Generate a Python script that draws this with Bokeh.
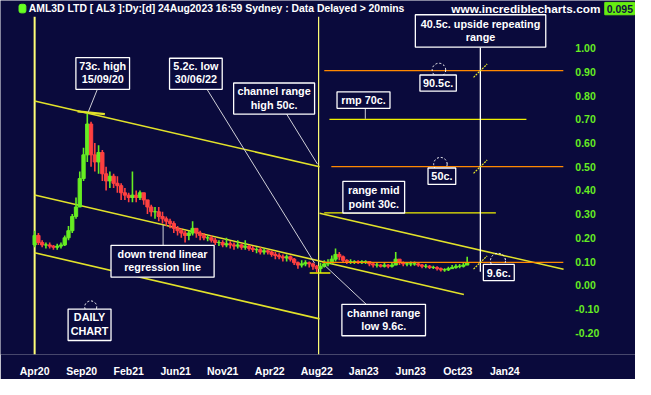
import numpy as np
from bokeh.plotting import figure
from bokeh.models import (ColumnDataSource, FixedTicker, NumeralTickFormatter, Range1d,
                          LinearAxis)
from bokeh.core.properties import value
from bokeh.embed import file_html
from bokeh.resources import INLINE

# ---------------- data ----------------
start_open = 0.17
bar_step_days = 8   # each candle summarises ~8 trading days

closes = [0.21, 0.18, 0.17, 0.17, 0.165, 0.16, 0.165, 0.17, 0.20, 0.23,
          0.29, 0.33, 0.45, 0.55, 0.68, 0.55, 0.52, 0.56, 0.47, 0.44,
          0.46, 0.43, 0.42, 0.39, 0.38, 0.37, 0.38, 0.37, 0.39, 0.36,
          0.33, 0.31, 0.31, 0.29, 0.28, 0.27, 0.26, 0.24, 0.23, 0.22,
          0.21, 0.22, 0.24, 0.22, 0.21, 0.20, 0.20, 0.19, 0.18, 0.18,
          0.17, 0.175, 0.17, 0.165, 0.17, 0.16, 0.165, 0.155, 0.15, 0.15,
          0.14, 0.145, 0.14, 0.13, 0.125, 0.12, 0.115, 0.12, 0.11, 0.095,
          0.085, 0.09, 0.095, 0.09, 0.08, 0.07, 0.08, 0.09, 0.095, 0.11,
          0.13, 0.12, 0.105, 0.10, 0.10, 0.10, 0.095, 0.10, 0.10, 0.09,
          0.085, 0.085, 0.08, 0.085, 0.08, 0.085, 0.11, 0.095, 0.09, 0.09,
          0.09, 0.09, 0.085, 0.08, 0.08, 0.075, 0.075, 0.07, 0.065, 0.065,
          0.07, 0.075, 0.08, 0.08, 0.085, 0.095]
highs = [0.23, 0.22, 0.19, 0.18, 0.18, 0.17, 0.175, 0.18, 0.21, 0.25,
         0.30, 0.37, 0.48, 0.58, 0.73, 0.69, 0.60, 0.59, 0.57, 0.50,
         0.48, 0.47, 0.46, 0.43, 0.41, 0.39, 0.48, 0.40, 0.40, 0.39,
         0.36, 0.34, 0.33, 0.33, 0.31, 0.29, 0.28, 0.27, 0.25, 0.24,
         0.23, 0.23, 0.27, 0.24, 0.23, 0.22, 0.21, 0.21, 0.20, 0.19,
         0.19, 0.20, 0.185, 0.18, 0.19, 0.175, 0.19, 0.17, 0.165, 0.16,
         0.16, 0.155, 0.15, 0.145, 0.14, 0.135, 0.13, 0.13, 0.125, 0.115,
         0.10, 0.105, 0.105, 0.10, 0.095, 0.085, 0.095, 0.105, 0.11, 0.125,
         0.155, 0.14, 0.125, 0.11, 0.11, 0.105, 0.105, 0.105, 0.105, 0.10,
         0.095, 0.095, 0.09, 0.095, 0.09, 0.095, 0.14, 0.11, 0.10, 0.095,
         0.10, 0.10, 0.095, 0.09, 0.09, 0.085, 0.082, 0.08, 0.075, 0.072,
         0.078, 0.085, 0.088, 0.09, 0.095, 0.12]
lows = [0.16, 0.17, 0.16, 0.155, 0.155, 0.15, 0.15, 0.155, 0.165, 0.19,
        0.22, 0.28, 0.33, 0.44, 0.52, 0.50, 0.48, 0.47, 0.44, 0.40,
        0.41, 0.41, 0.39, 0.36, 0.36, 0.35, 0.35, 0.35, 0.36, 0.34,
        0.30, 0.29, 0.28, 0.27, 0.26, 0.25, 0.24, 0.22, 0.21, 0.20,
        0.18, 0.19, 0.21, 0.20, 0.19, 0.19, 0.185, 0.18, 0.17, 0.165,
        0.16, 0.16, 0.155, 0.15, 0.155, 0.15, 0.15, 0.145, 0.14, 0.135,
        0.13, 0.13, 0.13, 0.12, 0.11, 0.11, 0.10, 0.10, 0.10, 0.085,
        0.07, 0.075, 0.08, 0.075, 0.065, 0.055, 0.052, 0.075, 0.08, 0.09,
        0.10, 0.105, 0.095, 0.09, 0.09, 0.09, 0.09, 0.09, 0.09, 0.08,
        0.075, 0.075, 0.075, 0.075, 0.072, 0.075, 0.085, 0.085, 0.08, 0.08,
        0.08, 0.082, 0.078, 0.072, 0.072, 0.068, 0.068, 0.062, 0.058, 0.057,
        0.06, 0.068, 0.07, 0.072, 0.075, 0.085]

x_tick_days = [0, 100, 200, 300, 400, 500, 600, 700, 800, 900, 1000]
x_tick_labels = ["Apr20", "Sep20", "Feb21", "Jun21", "Nov21", "Apr22",
                 "Aug22", "Jan23", "Jun23", "Oct23", "Jan24"]
y_ticks = [-0.2, -0.1, 0.0, 0.1, 0.2, 0.3, 0.4, 0.5, 0.6, 0.7, 0.8, 0.9, 1.0]

channel_days = [0, 606]
channel_high = [0.777, 0.500]
channel_low = [0.137, -0.142]
regression_days = [0, 913]
regression_vals = [0.381, -0.039]
channel2_days = [606, 1125]
channel2_high = [0.304, 0.067]

orange_levels = [0.905, 0.500, 0.096]
orange_from = [616, 631, 612]
yellow_levels = [0.700, 0.305]
yellow_from = [627, 616]
yellow_to = [1046, 981]

date_markers = [0, 604]
high_day, high_val = 114, 0.73
low_day, low_val = 607, 0.052
target_day = 948
last_price = "0.095"

# ---------------- layout helpers (reference pixel -> data) ----------------
X0, XS = 35.0, 0.482
Y0, YS = 299.2, 249.1
def T(xr):
    return (xr - X0) / XS
def V(yr):
    return (Y0 - yr) / YS

NAVY = "#0a0a3c"
RED = "#ff4040"
GREEN = "#66ee22"
CHAN = "#e2e22a"
VMARK = "#ffff77"
ORANGE = "#ff8800"
FONT = value("Liberation Sans")

p = figure(width=635, height=379, output_backend="svg", toolbar_location=None,
           x_range=Range1d(T(0), T(651)), y_range=Range1d(V(372), V(0)),
           y_axis_location=None,
           min_border_left=0, min_border_top=0, min_border_right=0, min_border_bottom=22,
           background_fill_color=NAVY, border_fill_color=NAVY, outline_line_color=None)
p.grid.visible = False

yax = LinearAxis(fixed_location=T(577))
p.add_layout(yax, "right")

for ax in (p.xaxis[0], yax):
    ax.axis_line_color = None
    ax.major_tick_line_color = None
    ax.minor_tick_line_color = None
    ax.major_label_text_font = "Liberation Sans"
    ax.major_label_text_font_style = "bold"
    ax.major_label_text_font_size = "10.5px"
p.xaxis.ticker = FixedTicker(ticks=x_tick_days)
p.xaxis.major_label_overrides = {d: l for d, l in zip(x_tick_days, x_tick_labels)}
p.xaxis.major_label_text_color = "white"
p.xaxis.major_label_standoff = 4
yax.ticker = FixedTicker(ticks=y_ticks)
yax.formatter = NumeralTickFormatter(format="0.00")
yax.major_label_text_color = GREEN
yax.major_label_standoff = 6

# vertical date markers
p.segment(x0=date_markers, y0=[V(17)] * 2, x1=date_markers, y1=[V(372)] * 2,
          line_color=VMARK, line_width=[2, 1.2])

# channel lines
p.line(channel_days, channel_high, line_color=CHAN, line_width=1.6)
p.line(channel_days, channel_low, line_color=CHAN, line_width=1.6)
p.line(regression_days, regression_vals, line_color=CHAN, line_width=1.6)
p.line(channel2_days, channel2_high, line_color=CHAN, line_width=1.6)

# candles
n = len(closes)
days = [i * bar_step_days for i in range(n)]
opens = [start_open] + closes[:-1]
cols = [GREEN if c >= o else RED for o, c in zip(opens, closes)]
src = ColumnDataSource(dict(x=days, o=opens, c=closes, h=highs, l=lows,
                            top=[max(o, c) for o, c in zip(opens, closes)],
                            bot=[min(o, c) for o, c in zip(opens, closes)], col=cols))
p.segment(x0="x", y0="l", x1="x", y1="h", color="col", line_width=1.6, source=src)
p.vbar(x="x", width=7.0, top="top", bottom="bot", fill_color="col", line_color="col", source=src)

# horizontal levels
p.segment(x0=orange_from, y0=orange_levels, x1=[T(577)] * 3, y1=orange_levels,
          line_color=ORANGE, line_width=1.3)
p.segment(x0=yellow_from, y0=yellow_levels, x1=yellow_to, y1=yellow_levels,
          line_color="#f0f000", line_width=1.3)

# high / low markers
p.segment(x0=[T(79)], y0=[V(116.5)], x1=[T(107)], y1=[V(119.5)], line_color=CHAN, line_width=2.2)
p.segment(x0=[low_day - 22], y0=[low_val], x1=[low_day + 22], y1=[low_val],
          line_color="#f0f000", line_width=1.5)

# target vertical + diagonal ticks
p.segment(x0=[target_day], y0=[V(49)], x1=[target_day], y1=[V(285)], line_color="white", line_width=1.3)
dx, dy = 7 / XS, 7 / YS
p.segment(x0=[target_day - dx] * 3, y0=[v - dy for v in orange_levels],
          x1=[target_day + dx] * 3, y1=[v + dy for v in orange_levels],
          line_color=CHAN, line_width=1.2, line_dash="2 1")

# pointer lines (reference pixel coordinates)
pointers = [((99.3, 93.3), (90, 117)), ((211.7, 93.3), (322, 276)),
            ((293.3, 119.3), (325, 172)), ((374, 113.3), (374, 124.3)),
            ((166.7, 257.3), (166.7, 236)), ((375, 319.3), (333, 279))]
p.segment(x0=[T(a[0]) for a, b in pointers], y0=[V(a[1]) for a, b in pointers],
          x1=[T(b[0]) for a, b in pointers], y1=[V(b[1]) for a, b in pointers],
          line_color="#d0d0d8", line_width=1)

# dashed markers
marks = [(449.5, 73, 13.5), (451, 172, 13.5), (510, 273.5, 15), (92.5, 322, 12)]
p.scatter(x=[T(m[0]) for m in marks], y=[V(m[1]) for m in marks], size=[m[2] for m in marks],
          marker="circle", fill_color=None, line_color="white", line_width=1, line_dash="2 2")

# annotation boxes: (x0, x1, y0, y1, [(text, yc), ...])
boxes = [
    (77.3, 132.3, 60, 93.3, [("73c. high", 68.7), ("15/09/20", 82.3)]),
    (173.3, 227.3, 60.7, 93.3, [("5.2c. low", 68.7), ("30/06/22", 82.3)]),
    (239, 322, 86.7, 119.3, [("channel range", 95.3), ("high 50c.", 109.3)]),
    (425.3, 559, 15, 49, [("40.5c. upside repeating", 24.8), ("range", 38.8)]),
    (345, 399.3, 96, 113.3, [("rmp 70c.", 104.8)]),
    (430, 467.3, 78.3, 95.3, [("90.5c.", 86.9)]),
    (438.3, 466.7, 176, 193.3, [("50c.", 184.8)]),
    (351, 414.3, 190, 223.3, [("range mid", 199.5), ("point 30c.", 213.7)]),
    (113.3, 219, 257.3, 290.7, [("down trend linear", 266.2), ("regression line", 280.5)]),
    (69.3, 113.3, 324.3, 357.3, [("DAILY", 332.8), ("CHART", 347.2)]),
    (350, 435.7, 319.3, 352.3, [("channel range", 328.7), ("low 9.6c.", 342.2)]),
    (495, 526.7, 277.3, 294.3, [("9.6c.", 285.9)]),
]
p.quad(left=[T(b[0]) for b in boxes], right=[T(b[1]) for b in boxes],
       top=[V(b[2]) for b in boxes], bottom=[V(b[3]) for b in boxes],
       fill_color=NAVY, line_color="white", line_width=1.3)
tx, ty, tt = [], [], []
for b in boxes:
    for s, yc in b[4]:
        tx.append(T((b[0] + b[1]) / 2)); ty.append(V(yc)); tt.append(s)
p.text(x=tx, y=ty, text=tt, text_font=FONT, text_font_style="bold", text_font_size="10.8px",
       text_color="white", text_align="center", text_baseline="middle")

# header
p.quad(left=[T(19)], right=[T(26)], top=[V(4)], bottom=[V(13)], fill_color="#66ff22",
       line_color="#66ff22", border_radius=2)
p.text(x=[T(29)], y=[V(8.5)], text=["AML3D LTD [ AL3 ]:Dy:[d]  24Aug2023 16:59 Sydney : Data Delayed > 20mins"],
       text_font=FONT, text_font_style="bold", text_font_size="10.4px", text_color="white",
       text_align="left", text_baseline="middle")
p.text(x=[T(615)], y=[V(8.5)], text=["www.incrediblecharts.com"], text_font=FONT,
       text_font_style="bold", text_font_size="11.8px", text_color="white",
       text_align="right", text_baseline="middle")
p.quad(left=[T(619.5)], right=[T(650)], top=[V(2)], bottom=[V(15)], fill_color="#66ee11",
       line_color="#66ee11")
p.text(x=[T(635)], y=[V(8.7)], text=[last_price], text_font=FONT,
       text_font_style="bold", text_font_size="10.5px", text_color="#101040",
       text_align="center", text_baseline="middle")

open("out.html", "w").write(file_html(p, INLINE))
